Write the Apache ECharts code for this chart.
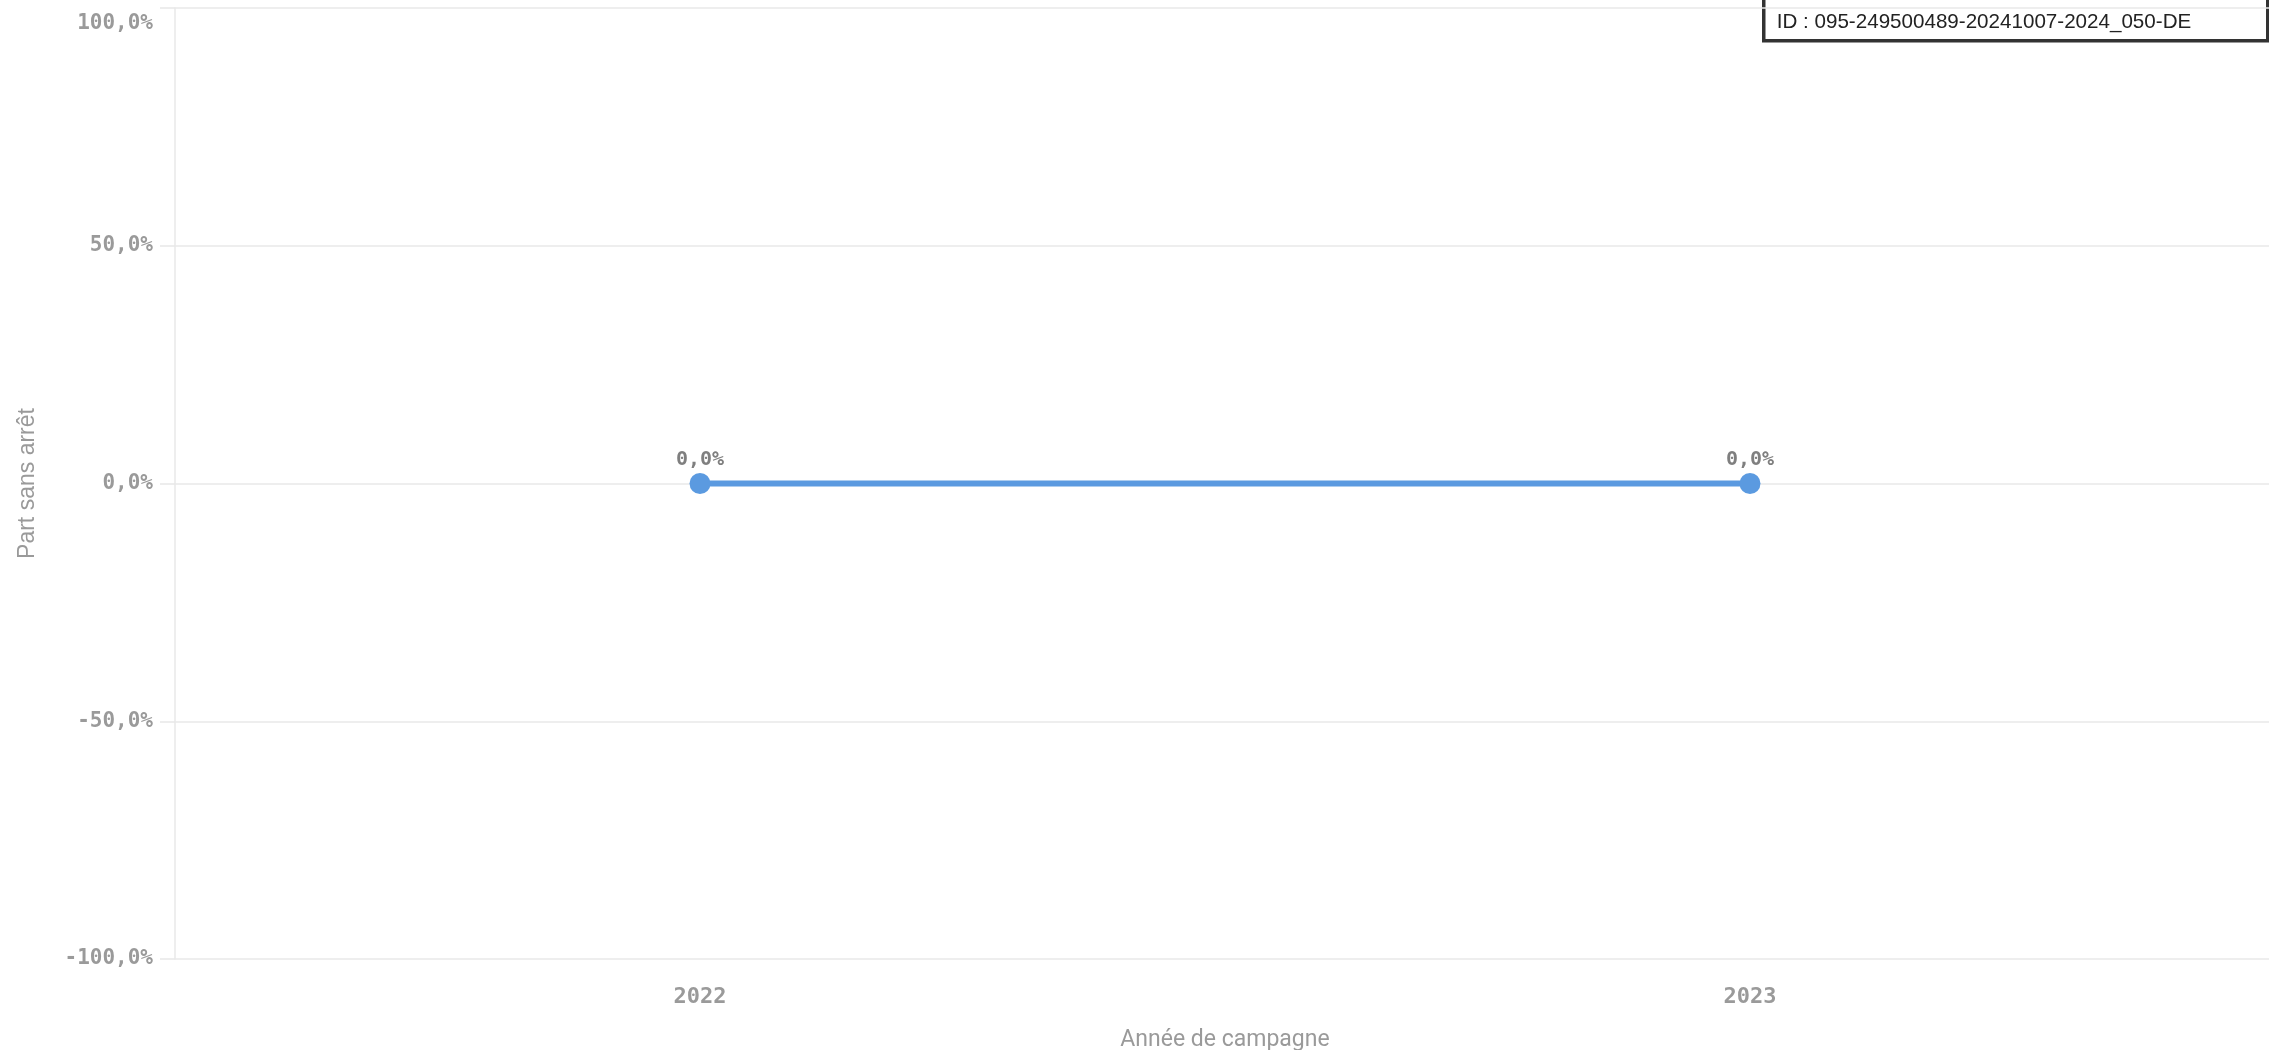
<!DOCTYPE html>
<html>
<head>
<meta charset="utf-8">
<script src="https://cdn.jsdelivr.net/npm/echarts@6/dist/echarts.min.js"></script>
<style>
html,body{margin:0;padding:0;background:#fff;}
#chart{width:2269px;height:1050px;}
</style>
</head>
<body>
<div id="chart"></div>
<script>
const categories = ['2022', '2023'];
const partSansArret = [0.0, 0.0];
const yTicks = [-1, -0.5, 0, 0.5, 1];
const xAxisTitle = 'Année de campagne';
const yAxisTitle = 'Part sans arrêt';
const idText = 'ID : 095-249500489-20241007-2024_050-DE';

function pct(v) {
  return (v * 100).toFixed(1).replace('.', ',') + '%';
}

const labelFont = { color: '#9a9a9a', fontFamily: 'DejaVu Sans Mono', fontWeight: 'bold', fontSize: 21 };

const chart = echarts.init(document.getElementById('chart'));
chart.setOption({
  animation: false,
  grid: { left: 175, right: -6, top: 8, bottom: 91, containLabel: false, outerBoundsMode: 'none' },
  xAxis: {
    type: 'category',
    data: categories,
    boundaryGap: true,
    axisLine: { show: false },
    axisTick: { show: false },
    axisLabel: { color: '#9a9a9a', fontFamily: 'DejaVu Sans Mono', fontWeight: 'bold', fontSize: 22, margin: 27 },
    name: xAxisTitle,
    nameLocation: 'middle',
    nameGap: 70,
    nameTextStyle: { color: '#9a9a9a', fontFamily: 'Roboto', fontSize: 23 }
  },
  yAxis: {
    type: 'value',
    min: yTicks[0],
    max: yTicks[yTicks.length - 1],
    interval: 0.5,
    axisLine: { show: true, lineStyle: { color: '#e8e8e8', width: 1.5 } },
    axisTick: { show: true, length: 15, lineStyle: { color: '#e8e8e8', width: 1.5 } },
    splitLine: { show: true, lineStyle: { color: '#e8e8e8', width: 1.5 } },
    axisLabel: Object.assign({}, labelFont, {
      margin: 22,
      verticalAlignMaxLabel: 'top',
      formatter: v => v === yTicks[yTicks.length - 1] ? '{top|' + pct(v) + '}' : pct(v),
      rich: { top: Object.assign({}, labelFont, { padding: [5, 0, 0, 0] }) }
    }),
    name: yAxisTitle,
    nameLocation: 'middle',
    nameGap: 136,
    nameTextStyle: { color: '#9a9a9a', fontFamily: 'Liberation Sans', fontSize: 23 }
  },
  series: [{
    type: 'line',
    data: partSansArret,
    symbol: 'circle',
    symbolSize: 21,
    lineStyle: { color: '#5b9ae0', width: 6 },
    itemStyle: { color: '#5b9ae0' },
    label: {
      show: true,
      position: 'top',
      distance: 3,
      color: '#7f7f7f',
      fontFamily: 'DejaVu Sans Mono',
      fontWeight: 'bold',
      fontSize: 20,
      formatter: p => pct(p.value)
    }
  }],
  graphic: [{
    type: 'group',
    left: 1762,
    top: -20,
    children: [{
      type: 'rect',
      shape: { x: 0, y: 0, width: 504, height: 59 },
      style: { fill: '#ffffff', stroke: '#333333', lineWidth: 3.5 }
    }, {
      type: 'text',
      style: { x: 13, y: 41, text: idText, fill: '#222222', font: '20.6px "Liberation Sans"', verticalAlign: 'middle' }
    }]
  }]
});
</script>
</body>
</html>
